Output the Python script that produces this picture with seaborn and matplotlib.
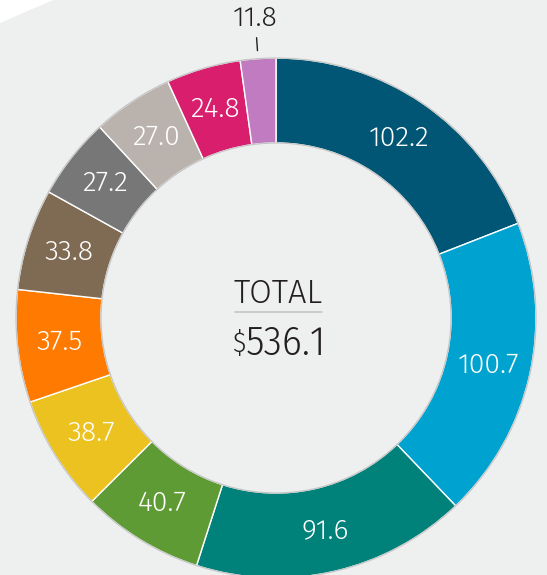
import numpy as np
import matplotlib
matplotlib.use("Agg")
import matplotlib.pyplot as plt
import seaborn as sns

# Datos de la dona (en sentido horario desde arriba)
valores = [102.2, 100.7, 91.6, 40.7, 38.7, 37.5, 33.8, 27.2, 27.0, 24.8, 11.8]
etiquetas = ["102.2", "100.7", "91.6", "40.7", "38.7", "37.5", "33.8", "27.2", "27.0", "24.8", "11.8"]
colores_hex = ["#005674", "#00a3d0", "#00827b", "#5f9b35", "#ebc21f", "#ff7a00",
               "#7f6a53", "#777777", "#bab3ad", "#d91e6e", "#c17bc0"]
titulo_centro = "TOTAL"
total_texto = "536.1"

sns.set_theme(style="white")
plt.rcParams['font.family'] = ['Fira Sans Condensed', 'Open Sans', 'DejaVu Sans']
fuente_normal = ['Fira Sans', 'Open Sans', 'DejaVu Sans']
colores = sns.color_palette(colores_hex)

W, H = 547, 575
fig = plt.figure(figsize=(W / 100, H / 100), dpi=100)
fig.patch.set_facecolor('white')
ax = fig.add_axes([0, 0, 1, 1])

# Fondo gris (circulo grande)
ax.add_patch(plt.Circle((529, H - 1172), 1264, color='#eeefef', zorder=0))

cx, cy = 276, H - 318
r_out, r_in = 260, 175
wedges, _ = ax.pie(valores, colors=colores, startangle=90, counterclock=False,
                   radius=r_out, center=(cx, cy),
                   wedgeprops=dict(width=r_out - r_in, edgecolor='white', linewidth=1))
for w in wedges:
    w.set_zorder(2)

# Contornos grises
ax.add_patch(plt.Circle((cx, cy), r_out, fill=False, ec='#c6c6c6', lw=1, zorder=3))
ax.add_patch(plt.Circle((cx, cy), r_in, fill=False, ec='#c6c6c6', lw=1, zorder=3))

# Etiquetas
r_lab = (r_out + r_in) / 2
for w, txt, v in zip(wedges, etiquetas, valores):
    ang = np.deg2rad((w.theta1 + w.theta2) / 2)
    if v < 15:
        x0, y0 = cx + 268 * np.cos(ang), cy + 268 * np.sin(ang)
        x1, y1 = cx + 281 * np.cos(ang), cy + 281 * np.sin(ang)
        ax.plot([x0, x1], [y0, y1], color='#231f20', lw=1, zorder=4)
        ax.text(cx + 300 * np.cos(ang), cy + 301 * np.sin(ang), txt, family=fuente_normal,
                ha='center', va='center', fontsize=20.5, fontweight=300, color='#231f20', zorder=4)
    else:
        ax.text(cx + r_lab * np.cos(ang), cy + r_lab * np.sin(ang), txt, family=fuente_normal,
                ha='center', va='center', fontsize=20.5, fontweight=300, color='white', zorder=4)

# Texto central
ax.text(278.5, H - 303, titulo_centro, ha='center', va='baseline', fontsize=23.5,
        family=fuente_normal, fontweight=300, color='#231f20')
ax.plot([235, 322], [H - 311.7, H - 311.7], color='#c6c6c6', lw=1.2)
ax.text(246, H - 355, total_texto, ha='left', va='baseline', fontsize=30,
        fontweight=300, color='#231f20')
ax.text(245, H - 352, "\\$", ha='right', va='baseline', fontsize=20,
        fontweight=300, color='#231f20')

ax.set_xlim(0, W)
ax.set_ylim(0, H)
ax.set_aspect('equal')
ax.axis('off')

fig.savefig("out.png", dpi=100, facecolor=fig.get_facecolor())
plt.close(fig)
